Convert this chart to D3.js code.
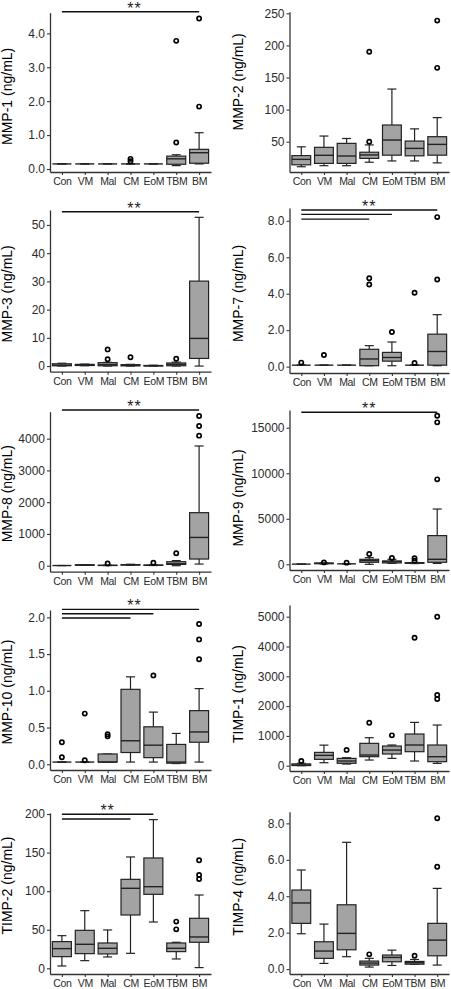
<!DOCTYPE html>
<html><head><meta charset="utf-8">
<script src="https://cdn.jsdelivr.net/npm/d3@7"></script>
<style>
body{margin:0;background:#fff}
svg{display:block}
text{font-family:"Liberation Sans",Arial,Helvetica,sans-serif}
</style>
</head><body>
<svg id="chart" width="451" height="989"></svg>
<script>
// ---------- DATA ----------
const categories = ["Con","VM","Mal","CM","EoM","TBM","BM"];

// box stats per group: [lowWhisker, q1, median, q3, highWhisker]
const mmp1Stats = [[0.15,0.15,0.15,0.15,0.15],[0.15,0.15,0.15,0.15,0.15],[0.15,0.15,0.15,0.15,0.15],[0.15,0.15,0.15,0.15,0.15],[0.15,0.15,0.15,0.15,0.15],[0.1,0.14,0.3,0.38,0.42],[0.15,0.17,0.48,0.58,1.07]];
const mmp1Out = [[],[],[],[0.23,0.3],[],[0.78,3.78],[1.84,4.44]];

const mmp2Stats = [[11,14,22.5,28.3,42],[12.6,16.2,28.8,41.2,58.8],[12.6,16.2,27.7,47.4,55],[18,24,29.4,33.6,45],[20,29,52.6,76,132],[20,28,39.6,51,70],[17,29,45.8,57.8,87.5]];
const mmp2Out = [[],[],[],[50,190],[],[],[165,238.6]];

const mmp3Stats = [[0,0.1,0.3,0.8,1.0],[0.1,0.2,0.4,0.6,0.7],[0,0.1,0.5,1.2,1.3],[0,0.1,0.2,0.5,0.6],[0,0.05,0.1,0.2,0.3],[0,0.1,0.6,1.1,1.4],[0,2.7,9.8,30.1,52.7]];
const mmp3Out = [[],[],[2.4,5.9],[3.1],[],[2.6],[]];

const mmp7Stats = [[0.08,0.08,0.08,0.08,0.08],[0.08,0.08,0.08,0.08,0.08],[0.08,0.08,0.08,0.08,0.08],[0.05,0.05,0.42,0.95,1.15],[0.05,0.3,0.5,0.78,1.35],[0.08,0.08,0.08,0.08,0.08],[0.05,0.08,0.83,1.78,2.85]];
const mmp7Out = [[0.22],[0.64],[],[4.5,4.85],[1.9],[0.2,4.05],[4.78,8.2]];

const mmp8Stats = [[5,5,5,5,5],[10,15,20,28,35],[5,8,10,12,15],[15,20,28,35,45],[5,10,15,20,30],[0,40,60,125,160],[52,210,890,1670,3770]];
const mmp8Out = [[],[],[70],[],[95],[390],[4095,4400,4714]];

const mmp9Stats = [[20,20,20,20,20],[40,70,100,140,150],[50,50,50,50,50],[0,220,400,550,730],[100,150,290,370,550],[80,110,150,180,200],[100,220,550,3150,6070]];
const mmp9Out = [[],[210],[180],[1130],[700],[400,660],[9330,15590,16320]];

const mmp10Stats = [[0.03,0.03,0.03,0.03,0.03],[0.03,0.03,0.03,0.03,0.03],[0.03,0.03,0.03,0.14,0.14],[0.03,0.16,0.32,1.02,1.19],[0.03,0.09,0.26,0.51,0.71],[0.01,0.015,0.03,0.27,0.42],[0.03,0.3,0.44,0.73,1.03]];
const mmp10Out = [[0.095,0.3],[0.055,0.69],[0.38,0.41],[],[1.21],[],[1.43,1.7,1.91]];

const timp1Stats = [[0,5,20,60,80],[100,212,347,447,690],[56,80,157,245,268],[190,302,358,750,940],[246,392,525,660,694],[157,470,694,1063,1454],[78,134,302,694,1365]];
const timp1Out = [[157],[],[530],[1443],[1018],[4295],[2237,2371,5000]];

const timp2Stats = [[3,15.1,25.5,34.6,42.3],[9.9,19,31.1,49.2,74.7],[14.7,18.6,25.9,32.8,49.7],[19.4,69.1,103.7,115.3,144.3],[60,95.9,105.8,143,192.7],[12.1,21.6,25.9,32.8,33.7],[0.9,33.7,40.6,64.8,95]];
const timp2Out = [[],[],[],[],[],[50.5,60.5],[115.8,121,140]];

const timp4Stats = [[1.94,2.51,3.63,4.34,5.44],[0.31,0.59,0.99,1.5,2.47],[0.68,1.06,1.96,3.53,6.96],[0.11,0.22,0.33,0.44,0.59],[0.2,0.4,0.64,0.77,1.04],[0.26,0.27,0.35,0.42,0.53],[0.22,0.73,1.59,2.51,4.43]];
const timp4Out = [[],[],[],[0.81],[],[0.73],[5.62,8.28]];

// y tick labels
const mmp1Ticks = [0,1,2,3,4];
const mmp2Ticks = [50,100,150,200,250];
const mmp3Ticks = [0,10,20,30,40,50];
const mmp7Ticks = [0,2,4,6,8];
const mmp8Ticks = [0,1000,2000,3000,4000];
const mmp9Ticks = [0,5000,10000,15000];
const mmp10Ticks = [0,0.5,1,1.5,2];
const timp1Ticks = [0,1000,2000,3000,4000,5000];
const timp2Ticks = [0,50,100,150,200];
const timp4Ticks = [0,2,4,6,8];

// significance brackets: [from, to, yValue]
const mmp1Sig = [["Con","BM",4.64]];
const mmp3Sig = [["Con","BM",54.7]];
const mmp7Sig = [["Con","BM",8.59],["Con","EoM",8.35],["Con","CM",8.09]];
const mmp8Sig = [["Con","BM",4904]];
const mmp9Sig = [["Con","BM",16690]];
const mmp10Sig = [["Con","BM",2.109],["Con","EoM",2.049],["Con","CM",1.991]];
const timp2Sig = [["Con","EoM",199.6],["Con","CM",193.5]];

// ---------- LAYOUT ----------
const f1 = d3.format(".1f"), f0 = d3.format("d");
const panels = [
  {title:"MMP-1 (ng/mL)", stats:mmp1Stats, out:mmp1Out, ticks:mmp1Ticks, fmt:f1, ylim:[-0.0885,4.61], sig:mmp1Sig, col:0, top:12.7, bottom:172, tdy:4},
  {title:"MMP-2 (ng/mL)", stats:mmp2Stats, out:mmp2Out, ticks:mmp2Ticks, fmt:f0, ylim:[2.8,252.5], sig:[], col:1, top:11.7, bottom:172, tdy:-10},
  {title:"MMP-3 (ng/mL)", stats:mmp3Stats, out:mmp3Out, ticks:mmp3Ticks, fmt:f0, ylim:[-2.0,55.3], sig:mmp3Sig, col:0, top:210, bottom:371.7, tdy:3},
  {title:"MMP-7 (ng/mL)", stats:mmp7Stats, out:mmp7Out, ticks:mmp7Ticks, fmt:f1, ylim:[-0.35,8.7], sig:mmp7Sig, col:1, top:208, bottom:373, tdy:3},
  {title:"MMP-8 (ng/mL)", stats:mmp8Stats, out:mmp8Out, ticks:mmp8Ticks, fmt:f0, ylim:[-189,4850], sig:mmp8Sig, col:0, top:411.7, bottom:571.7, tdy:2},
  {title:"MMP-9 (ng/mL)", stats:mmp9Stats, out:mmp9Out, ticks:mmp9Ticks, fmt:f0, ylim:[-626,16944], sig:mmp9Sig, col:1, top:410, bottom:570, tdy:8},
  {title:"MMP-10 (ng/mL)", stats:mmp10Stats, out:mmp10Out, ticks:mmp10Ticks, fmt:f1, ylim:[-0.078,2.1], sig:mmp10Sig, col:0, top:610, bottom:770, tdy:2},
  {title:"TIMP-1 (ng/mL)", stats:timp1Stats, out:timp1Out, ticks:timp1Ticks, fmt:f0, ylim:[-178,5393], sig:[], col:1, top:605, bottom:771, tdy:6},
  {title:"TIMP-2 (ng/mL)", stats:timp2Stats, out:timp2Out, ticks:timp2Ticks, fmt:f0, ylim:[-7.4,201.3], sig:timp2Sig, col:0, top:813, bottom:974, tdy:-8},
  {title:"TIMP-4 (ng/mL)", stats:timp4Stats, out:timp4Out, ticks:timp4Ticks, fmt:f1, ylim:[-0.27,8.64], sig:[], col:1, top:811.7, bottom:974, tdy:-6}
];

const colX = [[50,211],[289.5,449]];
const titleX = [7,238];
const boxFill = "#a3a3a3", ink = "#222";

const svg = d3.select("#chart");

panels.forEach(p => {
  const [x0,x1] = colX[p.col];
  const x = d3.scalePoint().domain(categories).range([x0,x1]).padding(0.52);
  const y = d3.scaleLinear().domain(p.ylim).range([p.bottom,p.top]);
  const g = svg.append("g");
  const bw = x.step()*0.83, cw = 9;

  categories.forEach((c,i) => {
    const s = p.stats[i], cx = x(c);
    const gb = g.append("g");
    gb.append("line").attr("x1",cx).attr("x2",cx).attr("y1",y(s[0])).attr("y2",y(s[1]))
      .attr("stroke",ink).attr("stroke-width",1.2);
    gb.append("line").attr("x1",cx).attr("x2",cx).attr("y1",y(s[3])).attr("y2",y(s[4]))
      .attr("stroke",ink).attr("stroke-width",1.2);
    [s[0],s[4]].forEach(v => gb.append("line").attr("x1",cx-cw/2).attr("x2",cx+cw/2)
      .attr("y1",y(v)).attr("y2",y(v)).attr("stroke",ink).attr("stroke-width",1.2));
    gb.append("rect").attr("x",cx-bw/2).attr("width",bw)
      .attr("y",y(s[3])).attr("height",Math.max(0,y(s[1])-y(s[3])))
      .attr("fill",boxFill).attr("stroke",ink).attr("stroke-width",1.2);
    gb.append("line").attr("x1",cx-bw/2).attr("x2",cx+bw/2).attr("y1",y(s[2])).attr("y2",y(s[2]))
      .attr("stroke",ink).attr("stroke-width",1.4);
    p.out[i].forEach(v => gb.append("circle").attr("cx",cx).attr("cy",y(v)).attr("r",2.1)
      .attr("fill","none").attr("stroke","#000").attr("stroke-width",1.7));
  });

  const ya = g.append("g").attr("transform",`translate(${x0},0)`)
    .call(d3.axisLeft(y).tickValues(p.ticks).tickFormat(p.fmt).tickSize(3).tickPadding(2).tickSizeOuter(0));
  const xa = g.append("g").attr("transform",`translate(0,${p.bottom})`)
    .call(d3.axisBottom(x).tickSize(3).tickPadding(3).tickSizeOuter(0));
  [ya,xa].forEach(a => {
    a.select(".domain").attr("stroke","#333").attr("stroke-width",1.3);
    a.selectAll(".tick line").attr("stroke","#333").attr("stroke-width",1.1);
    a.selectAll(".tick text").attr("fill","#2b2b2b").style("font-family",'"Liberation Sans",Arial,sans-serif');
  });
  ya.selectAll(".tick text").style("font-size","12px");
  xa.selectAll(".tick text").style("font-size","10.5px").style("letter-spacing","-0.35px");

  g.append("text").attr("transform",`translate(${titleX[p.col]},${(p.top+p.bottom)/2 + p.tdy}) rotate(-90)`)
    .attr("text-anchor","middle").attr("dominant-baseline","central")
    .style("font-size","14px").attr("fill","#000").text(p.title);

  p.sig.forEach(sg => {
    g.append("line").attr("x1",x(sg[0])).attr("x2",x(sg[1])).attr("y1",y(sg[2])).attr("y2",y(sg[2]))
      .attr("stroke","#111").attr("stroke-width",1.4);
  });
  if (p.sig.length) {
    const t = p.sig[0];
    g.append("text").attr("x",(x(t[0])+x(t[1]))/2 + (p.col===0 && t[1]==="BM" ? 4 : 0)).attr("y",y(t[2])+2)
      .attr("text-anchor","middle").style("font-size","16px").style("letter-spacing","1px")
      .attr("fill","#222").text("**");
  }
});
</script>
</body></html>
